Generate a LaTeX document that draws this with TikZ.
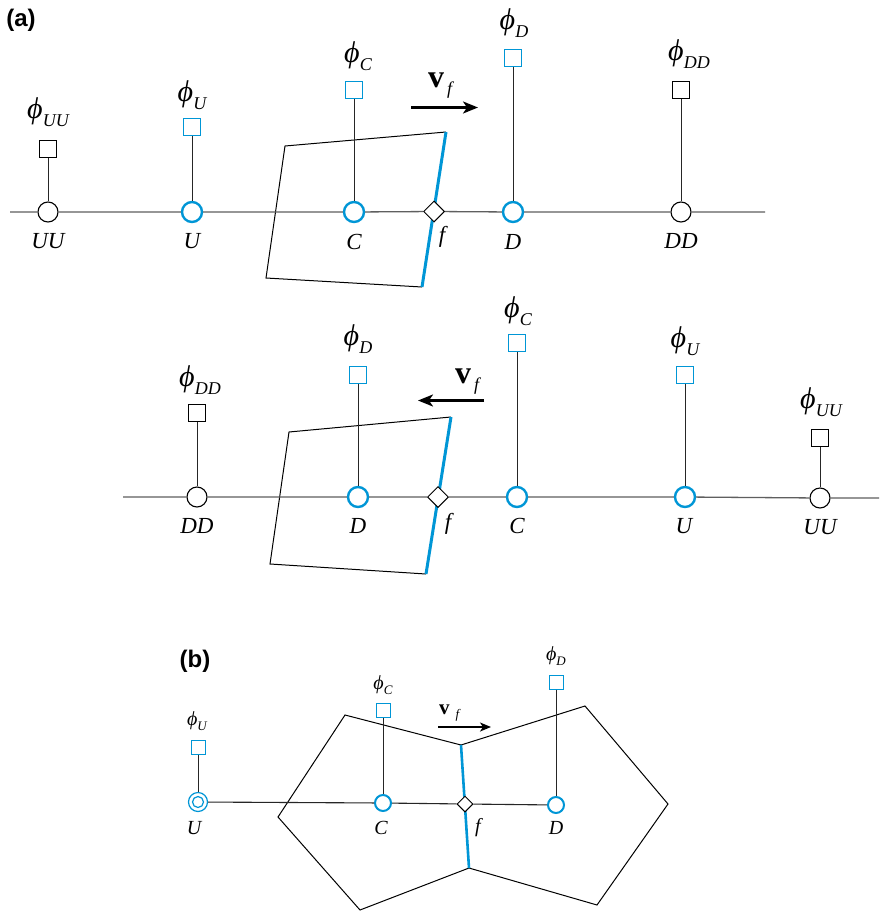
\documentclass[tikz,border=0pt]{standalone}
\usepackage{fix-cm}
\usepackage{graphicx}
\usepackage{fontspec}
\setmainfont{Liberation Serif}
\newfontfamily\labfont{Liberation Sans}
\usetikzlibrary{shapes.geometric,arrows.meta}
\definecolor{cblue}{RGB}{0,150,214}
\definecolor{lgray}{RGB}{95,95,95}
\newcommand\phiglyph[1]{{\fontsize{#1}{#1}\selectfont\itshape\iffontchar\font"03D5 \symbol{"03D5}\else\scalebox{0.72}[1]{$\phi$}\fi}}
% phi label: #1 phi size, #2 sub size, #3 subscript, #4 drop
\newcommand\phl[4]{\phiglyph{#1}\raisebox{-#4pt}{\fontsize{#2}{#2}\selectfont\itshape #3}}
\newcommand\vfl[4]{{\fontsize{#1}{#1}\selectfont\bfseries v}\hspace{#3pt}\raisebox{-#4pt}{\fontsize{#2}{#2}\selectfont\itshape f}}
\tikzset{
  cb/.style={circle,draw=cblue,line width=2.4pt,fill=white,minimum size=20pt,inner sep=0pt},
  ck/.style={circle,draw=black,line width=1.1pt,fill=white,minimum size=20pt,inner sep=0pt},
  sqb/.style={rectangle,draw=cblue,line width=1pt,fill=white,minimum size=17pt,inner sep=0pt},
  sqk/.style={rectangle,draw=black,line width=1pt,fill=white,minimum size=17pt,inner sep=0pt},
  dia/.style={diamond,draw=black,fill=white,line width=1pt,minimum width=21pt,minimum height=21pt,inner sep=0pt},
  cbs/.style={cb,minimum size=16pt,line width=2pt},
  sqbs/.style={sqb,minimum size=14pt},
  dias/.style={dia,minimum width=16pt,minimum height=16pt},
  lab/.style={inner sep=0pt,font=\fontsize{23}{23}\selectfont\itshape},
  labs/.style={inner sep=0pt,font=\fontsize{20}{20}\selectfont\itshape},
  phil/.style={inner sep=0pt},
  hline/.style={draw=lgray,line width=1.3pt},
  stem/.style={draw=black!85,line width=1pt},
  cell/.style={draw=black,line width=1pt,line join=miter},
  face/.style={draw=cblue,line width=3pt},
  vel/.style={draw=black,line width=2.2pt,-{Stealth[length=15pt,width=12pt,inset=4pt]}},
  vels/.style={draw=black,line width=1.6pt,-{Stealth[length=11pt,width=9pt,inset=3pt]}},
  panel/.style={inner sep=0pt,font=\labfont\bfseries\fontsize{24}{24}\selectfont}
}
\begin{document}
\begin{tikzpicture}[x={(1pt,0pt)},y={(0pt,-1pt)}]
\useasboundingbox[fill=white] (0,0) rectangle (880,913);

% ---------- panel labels
\node[panel] (pa) at (21,20) {(a)};
\node[panel] (pb) at (195,661) {(b)};

% ================= (a) top row =================
\draw[cell] (446,132) -- (285,146) -- (266,278) -- (422,287);
\draw[face] (446,132) -- (422,287);

\coordinate (aL) at (10,212);
\coordinate (aR) at (765,212);
\node[ck] (aUU) at (48,212) {};
\node[cb] (aU) at (192,212) {};
\node[cb] (aC) at (354,212) {};
\node[dia] (af) at (434,211.5) {};
\node[cb] (aD) at (513,212) {};
\node[ck] (aDD) at (681,212) {};

\node[sqk] (saUU) at (48,149) {};
\node[sqb] (saU) at (192,127) {};
\node[sqb] (saC) at (354,90) {};
\node[sqb] (saD) at (513,58) {};
\node[sqk] (saDD) at (681,90) {};

\draw[hline] (aL) -- (aUU) (aUU) -- (aU) (aU) -- (aC) (aC) -- (af) (af) -- (aD) (aD) -- (aDD) (aDD) -- (aR);
\draw[stem] (saUU) -- (aUU) (saU) -- (aU) (saC) -- (aC) (saD) -- (aD) (saDD) -- (aDD);

\node[phil] (paUU) at (48,112) {\phl{30}{18}{UU}{8}};
\node[phil] (paU) at (192,95) {\phl{30}{18}{U}{8}};
\node[phil] (paC) at (358,56) {\phl{30}{18}{C}{8}};
\node[phil] (paD) at (514,23) {\phl{30}{18}{D}{8}};
\node[phil] (paDD) at (689,54) {\phl{30}{18}{DD}{8}};

\node[lab] (laUU) at (48,241) {UU};
\node[lab] (laU) at (192,241) {U};
\node[lab] (laC) at (354,242) {C};
\node[lab] (laD) at (513,242) {D};
\node[lab] (laDD) at (681,241) {DD};
\node[lab] (laf) at (442,237) {f};

\coordinate (va1) at (411,107.5);
\coordinate (va2) at (478,107.5);
\draw[vel] (va1) -- (va2);
\node[inner sep=0pt,anchor=base west] (lva) at (428,87) {\vfl{32}{18}{3}{7}};

% ================= (a) bottom row =================
\draw[cell] (451,417) -- (289,432) -- (270,564) -- (426,574);
\draw[face] (451,417) -- (426,574);

\coordinate (bL) at (123,497);
\coordinate (bR) at (879,498);
\node[ck] (bDD) at (197,497) {};
\node[cb] (bD) at (358,497) {};
\node[dia] (bf) at (438,497) {};
\node[cb] (bC) at (517,497) {};
\node[cb] (bU) at (685,497) {};
\node[ck] (bUU) at (820,498) {};

\node[sqk] (sbDD) at (197,413) {};
\node[sqb] (sbD) at (358,375) {};
\node[sqb] (sbC) at (517,343) {};
\node[sqb] (sbU) at (685,375) {};
\node[sqk] (sbUU) at (820,438) {};

\draw[hline] (bL) -- (bDD) (bDD) -- (bD) (bD) -- (bf) (bf) -- (bC) (bC) -- (bU) (bU) -- (bUU) (bUU) -- (bR);
\draw[stem] (sbDD) -- (bDD) (sbD) -- (bD) (sbC) -- (bC) (sbU) -- (bU) (sbUU) -- (bUU);

\node[phil] (pbDD) at (200,380) {\phl{30}{18}{DD}{8}};
\node[phil] (pbD) at (358,339) {\phl{30}{18}{D}{8}};
\node[phil] (pbC) at (518,311) {\phl{30}{18}{C}{8}};
\node[phil] (pbU) at (685,341) {\phl{30}{18}{U}{8}};
\node[phil] (pbUU) at (821,402) {\phl{30}{18}{UU}{8}};

\node[lab] (lbDD) at (197,526) {DD};
\node[lab] (lbD) at (358,526) {D};
\node[lab] (lbC) at (517,526) {C};
\node[lab] (lbU) at (684,526) {U};
\node[lab] (lbUU) at (820,527) {UU};
\node[lab] (lbf) at (448,524) {f};

\coordinate (vb1) at (484,400.5);
\coordinate (vb2) at (418,400.5);
\draw[vel] (vb1) -- (vb2);
\node[inner sep=0pt,anchor=base west] (lvb) at (455,383) {\vfl{32}{18}{3}{7}};

% ================= (b) =================
\draw[cell] (461,745) -- (345,715) -- (278,817) -- (360,910) -- (469,868);
\draw[cell] (461,745) -- (585,706) -- (668,804) -- (597,905) -- (469,868);
\draw[face,line width=2.6pt] (461,745) -- (469,868);

\node[circle,draw=cblue,line width=1.2pt,fill=white,minimum size=19pt,inner sep=0pt] (cU) at (198,802) {};
\node[circle,draw=cblue,line width=1.2pt,minimum size=11pt,inner sep=0pt] (cUi) at (198,802) {};
\node[cbs] (cC) at (383,803) {};
\node[dias] (cf) at (465,804) {};
\node[cbs] (cD) at (556,805) {};

\node[sqbs] (scU) at (198,747) {};
\node[sqbs] (scC) at (383,710) {};
\node[sqbs] (scD) at (556,682) {};

\draw[draw=black!85,line width=1.1pt] (cU) -- (cC) (cC) -- (cf) (cf) -- (cD);
\draw[stem] (scU) -- (cU) (scC) -- (cC) (scD) -- (cD);

\node[phil] (pcU) at (197,721) {\phl{20}{13}{U}{5}};
\node[phil] (pcC) at (383,685) {\phl{20}{13}{C}{5}};
\node[phil] (pcD) at (556,656) {\phl{20}{13}{D}{5}};

\node[labs] (lcU) at (194,828) {U};
\node[labs] (lcC) at (381,828) {C};
\node[labs] (lcD) at (556,828) {D};
\node[labs] (lcf) at (478,828) {f};

\coordinate (vc1) at (438,727);
\coordinate (vc2) at (491,727);
\draw[vels] (vc1) -- (vc2);
\node[inner sep=0pt,anchor=base west] (lvc) at (439,714) {\vfl{21}{13}{6}{4}};
\end{tikzpicture}
\end{document}
